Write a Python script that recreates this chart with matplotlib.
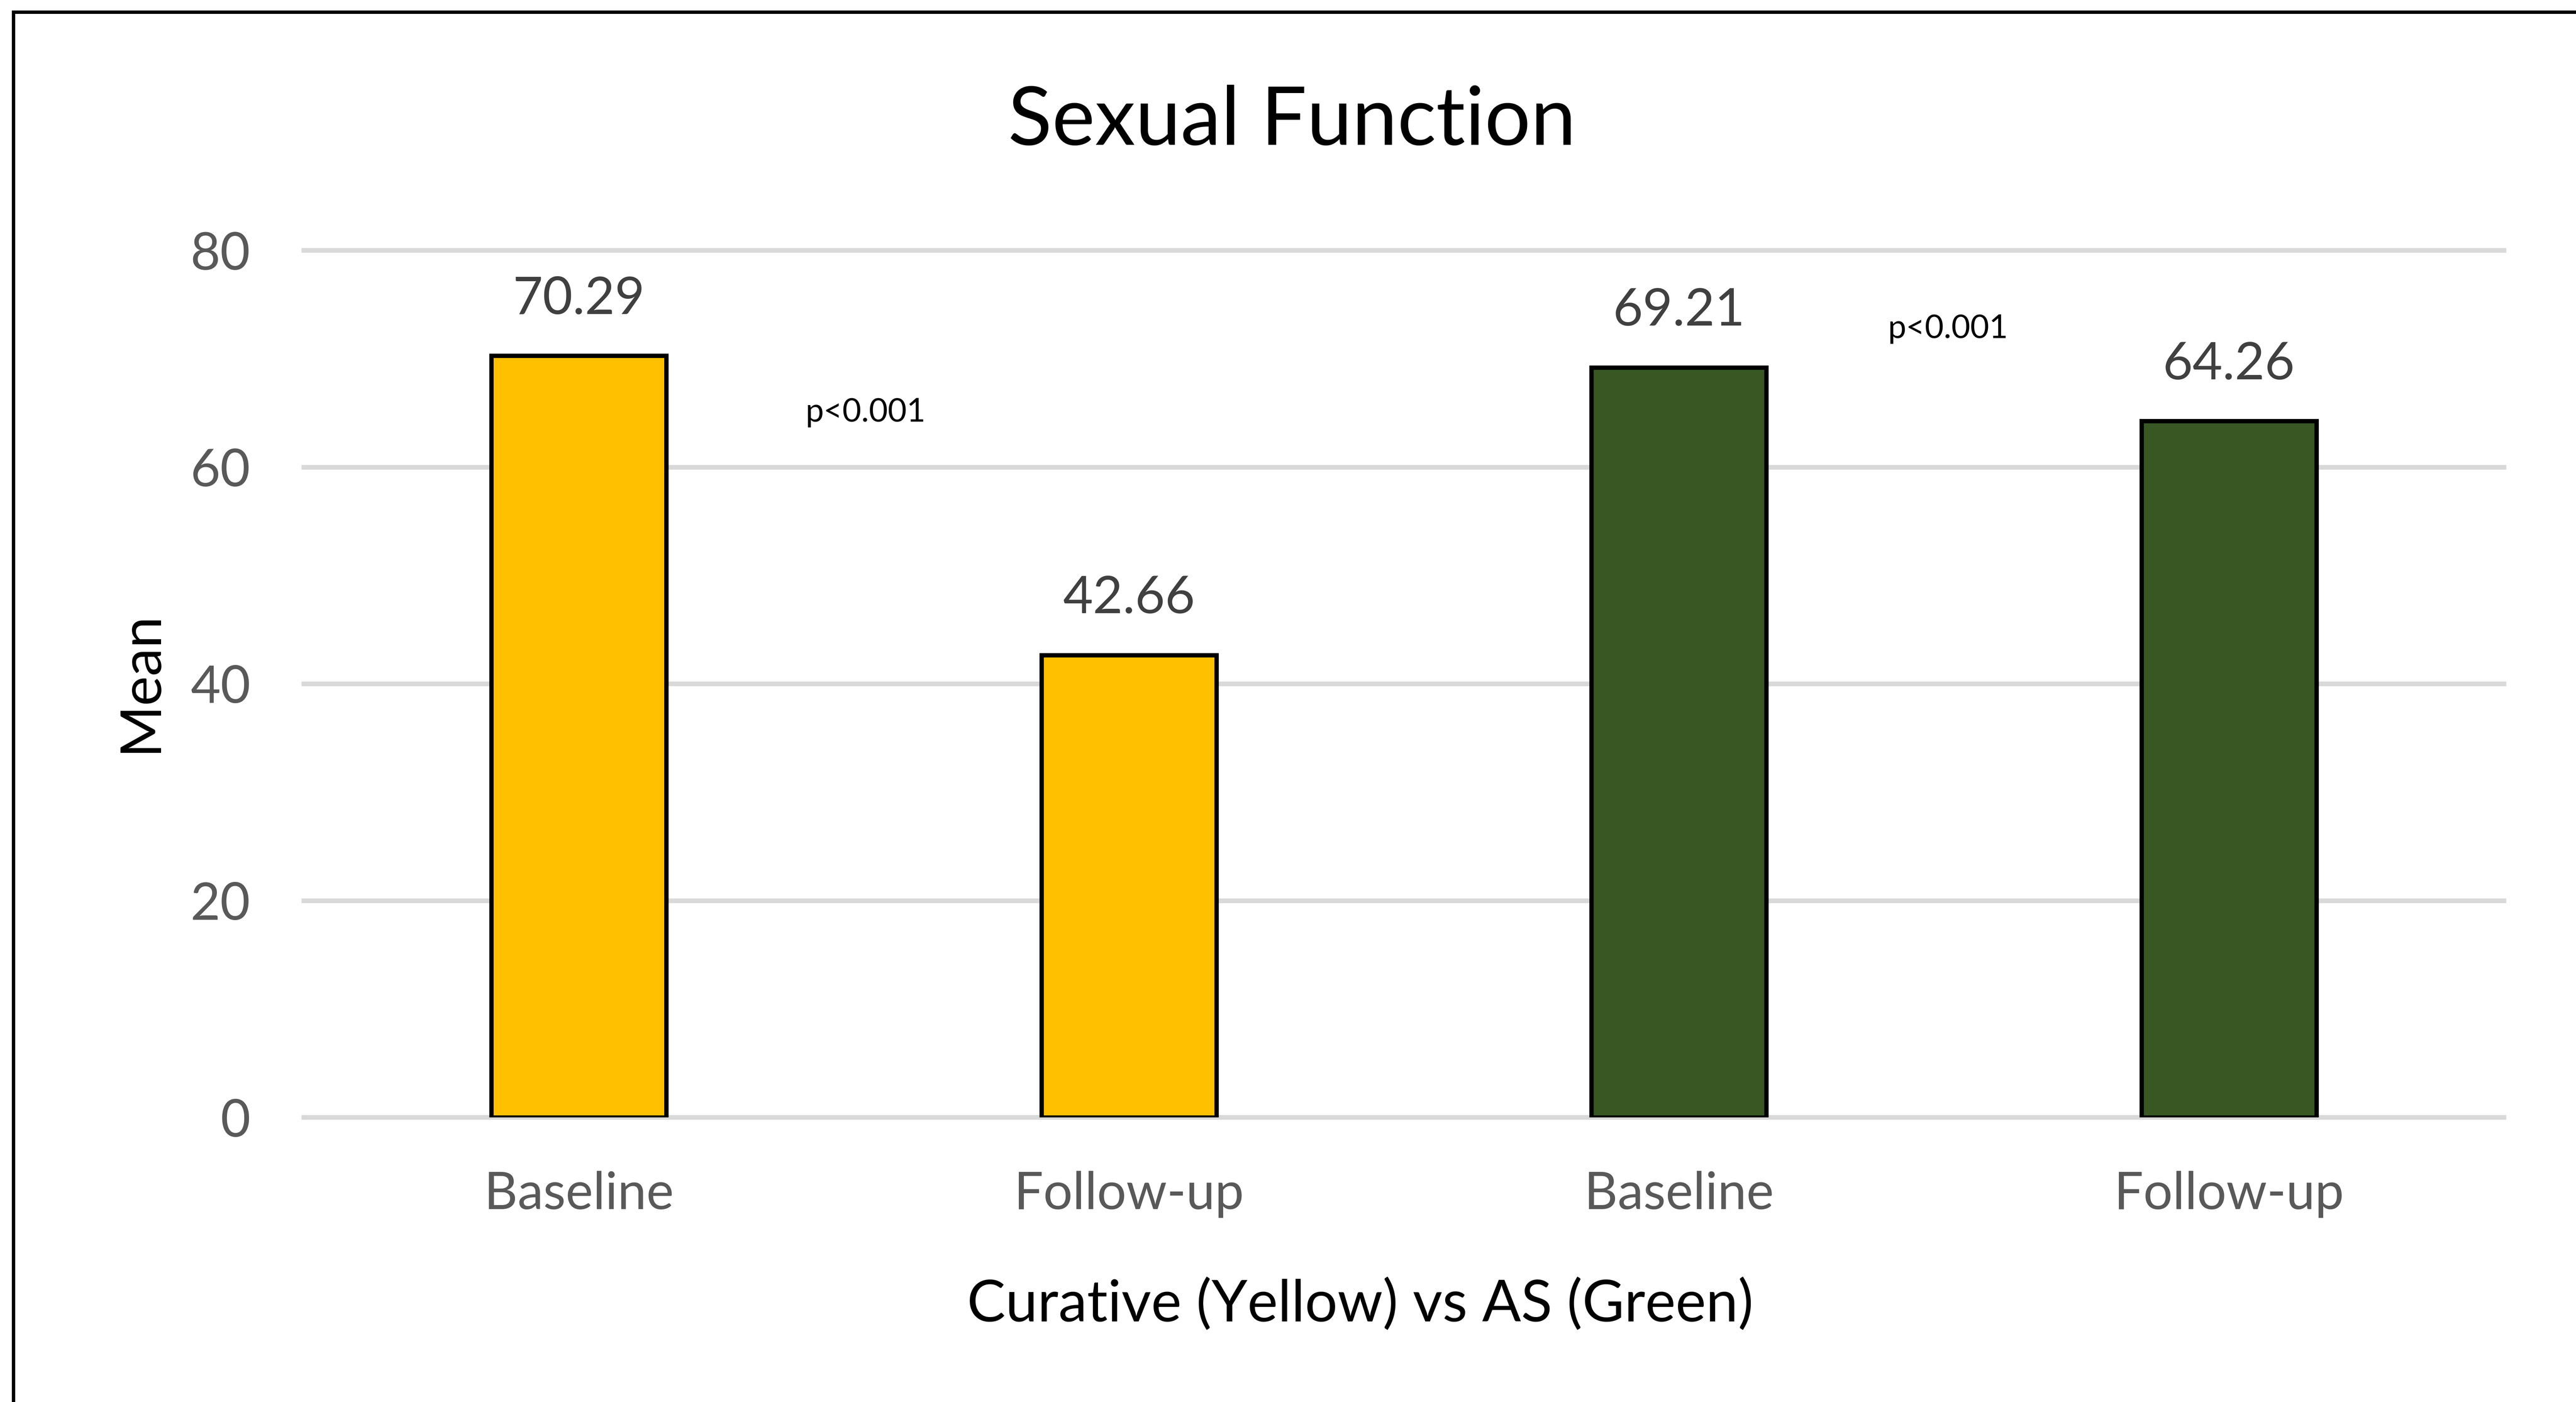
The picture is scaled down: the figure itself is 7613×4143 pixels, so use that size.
import numpy as np
import matplotlib.pyplot as plt
from matplotlib.patches import Rectangle

# Mean sexual function scores, curative (yellow) and AS (green) cohorts
labels = ['Baseline', 'Follow-up', 'Baseline', 'Follow-up']
means = [70.29, 42.66, 69.21, 64.26]
cohort = ['Curative', 'Curative', 'AS', 'AS']
p_values = ['p<0.001', 'p<0.001']
yticks = [0, 20, 40, 60, 80]

cohort_colors = {'Curative': '#FFC000', 'AS': '#385723'}

plt.rcParams['font.family'] = ['Lato', 'DejaVu Sans']

W, H, DPI = 7613, 4143, 400
fig = plt.figure(figsize=(W / DPI, H / DPI), dpi=DPI)
fig.patch.set_facecolor('white')

# axes placed in pixel units of the final image
ax_l, ax_r, ax_t, ax_b = 898, 7400, 740, 3302
ax = fig.add_axes([ax_l / W, 1 - ax_b / H, (ax_r - ax_l) / W, (ax_b - ax_t) / H])

x = np.arange(len(means))
ax.set_xlim(-0.5, len(means) - 0.5)
ax.set_ylim(0, 80)

for yv in yticks:
    ax.axhline(yv, color='#D9D9D9', lw=2.5, zorder=0, clip_on=False)

bars = ax.bar(x, means, width=0.318,
              color=[cohort_colors[c] for c in cohort],
              edgecolor='black', linewidth=2.3, zorder=2)

for xi, m in zip(x, means):
    ax.annotate(f'{m:.2f}', xy=(xi, m), xytext=(0, 22.2), textcoords='offset points',
                ha='center', va='baseline', fontsize=27.5, color='#404040')

# significance notes beside each cohort's pair of bars
ax.text(0.412, 64.2, p_values[0], ha='left', va='baseline', fontsize=17.3, color='black')
ax.text(2.380, 71.9, p_values[1], ha='left', va='baseline', fontsize=17.3, color='black')

for s in ax.spines.values():
    s.set_visible(False)

ax.set_yticks(yticks)
ax.set_xticks(x)
ax.set_xticklabels(labels)
ax.tick_params(axis='y', length=0, pad=28.4, labelsize=27.5, labelcolor='#595959')
ax.tick_params(axis='x', length=0, pad=28.5, labelsize=27.5, labelcolor='#595959')

fig.text(3818 / W, 1 - 428 / H, 'Sexual Function', ha='center', va='baseline',
         fontsize=43.2, color='black')
fig.text(4020 / W, 1 - 3905 / H, 'Curative (Yellow) vs AS (Green)', ha='center',
         va='baseline', fontsize=30.6, color='black')
fig.text(415 / W, 1 - 2015 / H, 'Mean', ha='center', va='center', rotation=90,
         fontsize=30, color='black')

# frame around the chart area (right and bottom edges fall outside the image)
fig.add_artist(Rectangle((40 / W, -0.1), 2, 1 - 36 / H + 0.1, transform=fig.transFigure,
                         fill=False, edgecolor='black', lw=1.8, clip_on=False))

fig.savefig('out.png', dpi=DPI, facecolor='white')
